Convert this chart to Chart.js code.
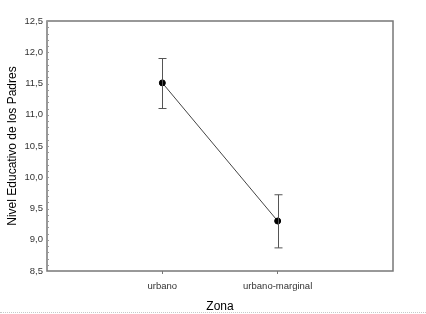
<!DOCTYPE html>
<html lang="es">
<head>
  <meta charset="UTF-8" />
  <title>Nivel Educativo de los Padres por Zona</title>
  <script src="https://cdn.jsdelivr.net/npm/chart.js"></script>
  <style>
    html, body { margin: 0; padding: 0; background: #fff; }
    #wrap { position: relative; width: 426px; height: 314px; }
    #line { position: absolute; left: 0; right: 0; top: 312px; border-top: 1px dotted #c8c8c8; }
  </style>
</head>
<body>
  <div id="wrap">
    <canvas id="chart" width="426" height="314"></canvas>
    <div id="line"></div>
  </div>

  <script>
    const zonas = ['urbano', 'urbano-marginal'];
    const medias = [11.51, 9.30];
    const limInf = [11.10, 8.87];
    const limSup = [11.90, 9.72];

    const fmt = v => v.toFixed(1).replace('.', ',');

    // barras de error dibujadas con las escalas del grafico
    const errorBars = {
      id: 'errorBars',
      afterDatasetsDraw(chart) {
        const { ctx, scales: { x, y } } = chart;
        ctx.save();
        ctx.strokeStyle = '#555';
        ctx.lineWidth = 1;
        zonas.forEach((z, i) => {
          const px = Math.round(x.getPixelForValue(i + 1)) + 0.5;
          const top = y.getPixelForValue(limSup[i]);
          const bot = y.getPixelForValue(limInf[i]);
          ctx.beginPath();
          ctx.moveTo(px, top); ctx.lineTo(px, bot);
          ctx.moveTo(px - 4, top); ctx.lineTo(px + 4, top);
          ctx.moveTo(px - 4, bot); ctx.lineTo(px + 4, bot);
          ctx.stroke();
        });
        // marco del area de datos
        const a = chart.chartArea;
        ctx.strokeStyle = '#777';
        ctx.lineWidth = 1.5;
        ctx.strokeRect(a.left, a.top, a.right - a.left, a.bottom - a.top);
        // marcas menores en el eje y
        ctx.lineWidth = 1;
        ctx.strokeStyle = '#999';
        for (let v = 8.6; v < 12.5; v += 0.1) {
          const py = Math.round(y.getPixelForValue(v)) + 0.5;
          ctx.beginPath();
          ctx.moveTo(a.left, py); ctx.lineTo(a.left + 2, py);
          ctx.stroke();
        }
        ctx.restore();
      }
    };

    new Chart(document.getElementById('chart'), {
      type: 'line',
      data: {
        datasets: [{
          data: zonas.map((z, i) => ({ x: i + 1, y: medias[i] })),
          borderColor: '#444',
          borderWidth: 1,
          pointRadius: 3,
          pointBackgroundColor: '#000',
          pointBorderColor: '#000',
          tension: 0
        }]
      },
      options: {
        responsive: false,
        animation: false,
        layout: { padding: { top: 21, right: 33, left: 0, bottom: 0 } },
        plugins: { legend: { display: false }, tooltip: { enabled: false } },
        scales: {
          x: {
            type: 'linear',
            min: 0,
            max: 3,
            afterFit: s => { s.height = 43; },
            afterBuildTicks: s => { s.ticks = zonas.map((z, i) => ({ value: i + 1 })); },
            border: { display: false },
            grid: { drawOnChartArea: false, tickLength: 3, color: '#777' },
            ticks: {
              callback: v => zonas[v - 1] || '',
              color: '#333',
              font: { family: 'Liberation Sans, Arial', size: 9.5 },
              padding: 7,
              maxRotation: 0
            },
            title: {
              display: true,
              text: 'Zona',
              color: '#000',
              font: { family: 'Liberation Sans, Arial', size: 12 },
              padding: { top: 4, bottom: 0 }
            }
          },
          y: {
            min: 8.5,
            max: 12.5,
            afterFit: s => { s.width = 47; },
            border: { display: false },
            grid: { drawOnChartArea: false, drawTicks: false },
            ticks: {
              stepSize: 0.5,
              callback: v => fmt(v),
              color: '#333',
              font: { family: 'Liberation Sans, Arial', size: 9.5 },
              padding: 4
            },
            title: {
              display: true,
              text: 'Nivel Educativo de los Padres',
              color: '#000',
              font: { family: 'Liberation Sans, Arial', size: 12 },
              padding: { top: 5, bottom: 0 }
            }
          }
        }
      },
      plugins: [errorBars]
    });
  </script>
</body>
</html>
